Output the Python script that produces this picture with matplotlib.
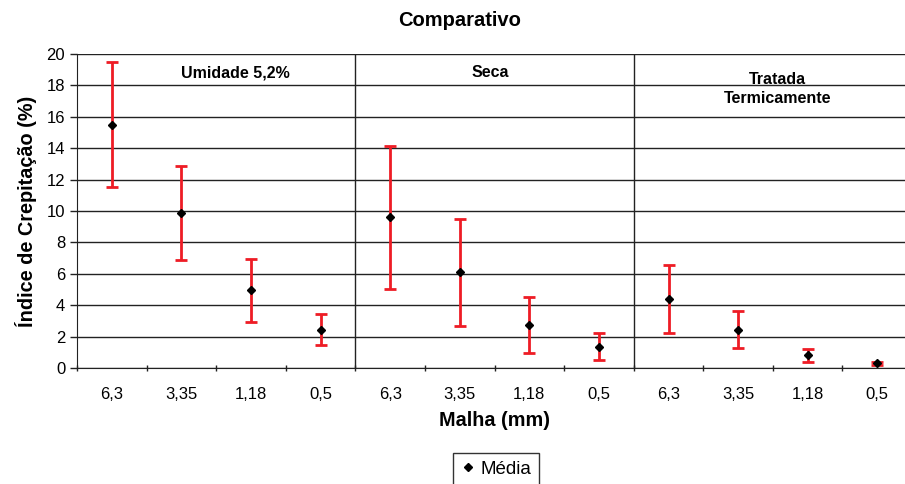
import numpy as np
import matplotlib
matplotlib.use("Agg")
import matplotlib.pyplot as plt
from matplotlib.ticker import FixedLocator, NullFormatter

plt.rcParams["font.family"] = ["Liberation Sans", "DejaVu Sans"]

# Índice de crepitação por malha, em três condições da amostra
malhas = ["6,3", "3,35", "1,18", "0,5"]
grupos = ["Umidade 5,2%", "Seca", "Tratada\nTermicamente"]
media_umidade = [15.5, 9.85, 4.95, 2.45]
erro_umidade = [4.0, 3.0, 2.0, 1.0]
media_seca = [9.6, 6.1, 2.75, 1.35]
erro_seca = [4.55, 3.4, 1.8, 0.85]
media_tratada = [4.4, 2.45, 0.8, 0.3]
erro_tratada = [2.15, 1.2, 0.4, 0.1]

medias = media_umidade + media_seca + media_tratada
erros = erro_umidade + erro_seca + erro_tratada
rotulos = malhas * len(grupos)
x = np.arange(len(medias))

fig = plt.figure(figsize=(9.05, 4.84), dpi=100)
ax = fig.add_axes([0.0851, 0.2397, 0.9227, 0.6488])

ax.errorbar(x, medias, yerr=erros, fmt="none", ecolor="#ee1c25",
            elinewidth=2, capsize=4, capthick=2, zorder=3)
ax.plot(x, medias, "D", color="black", markersize=4, zorder=4, label="Média")

ax.set_xlim(-0.5, len(medias) - 0.5)
ax.set_ylim(0, 20)
ax.set_yticks(np.arange(0, 21, 2))
ax.yaxis.grid(True, color="#222222", linewidth=1)
ax.set_axisbelow(True)

# separadores entre as condições
for k in range(1, len(grupos)):
    ax.axvline(k * len(malhas) - 0.5, color="#222222", linewidth=1)

# rótulos de malha no centro, marcas nas divisões
ax.set_xticks(x)
ax.set_xticklabels(rotulos)
ax.tick_params(axis="x", which="major", length=0, pad=14, labelsize=12)
ax.xaxis.set_minor_locator(FixedLocator(np.arange(-0.5, len(medias), 1)))
ax.xaxis.set_minor_formatter(NullFormatter())
ax.tick_params(axis="x", which="minor", length=5, width=1, direction="inout",
               color="#222222")
ax.tick_params(axis="y", length=5, width=1, color="#222222", labelsize=12)

for s in ["top", "right"]:
    ax.spines[s].set_visible(False)
for s in ["left", "bottom"]:
    ax.spines[s].set_color("#222222")

ax.text(1.78, 18.8, grupos[0], ha="center", va="center", fontsize=11.5, fontweight="bold")
ax.text(5.44, 18.8, grupos[1], ha="center", va="center", fontsize=11.5, fontweight="bold")
ax.text(9.57, 17.75, grupos[2], ha="center", va="center", fontsize=11.5,
        fontweight="bold", linespacing=1.3)

ax.set_ylabel("Índice de Crepitação (%)", fontsize=14.3, fontweight="bold", labelpad=7)
ax.set_xlabel("Malha (mm)", fontsize=14.3, fontweight="bold", labelpad=6)
fig.text(0.508, 0.958, "Comparativo", ha="center", va="center",
         fontsize=14.5, fontweight="bold")

leg = fig.legend(loc="upper center", bbox_to_anchor=(0.548, 0.064), fontsize=13.5,
                 frameon=True, fancybox=False, edgecolor="black",
                 handletextpad=0.3, handlelength=0.8, borderpad=0.4,
                 borderaxespad=0)
leg.get_frame().set_linewidth(1)

fig.savefig("out.png", dpi=100)
